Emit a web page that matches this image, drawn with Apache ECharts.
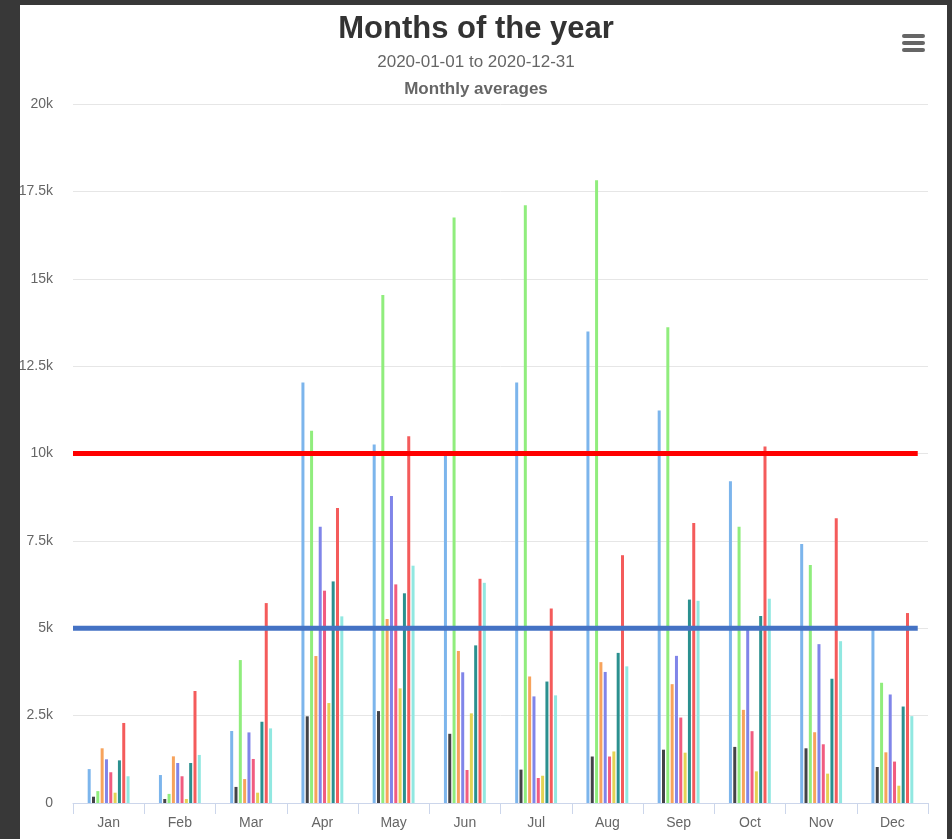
<!DOCTYPE html>
<html>
<head>
<meta charset="utf-8">
<script src="https://cdn.jsdelivr.net/npm/echarts@6/dist/echarts.min.js"></script>
<style>
html,body{margin:0;padding:0;background:#383838;}
#chart{width:952px;height:839px;}
</style>
</head>
<body>
<div id="chart"></div>
<script>
// ---- data ----
var months = ['Jan','Feb','Mar','Apr','May','Jun','Jul','Aug','Sep','Oct','Nov','Dec'];
var yTicks = [0, 2500, 5000, 7500, 10000, 12500, 15000, 17500, 20000];
var seriesNames = ['Series 1','Series 2','Series 3','Series 4','Series 5','Series 6','Series 7','Series 8','Series 9','Series 10'];
var s1  = [970, 800, 2060, 12030, 10260, 10075, 12030, 13490, 11230, 9205, 7410, 4955];
var s2  = [180, 115, 460, 2480, 2630, 1980, 955, 1330, 1525, 1605, 1565, 1030];
var s3  = [340, 260, 4090, 10650, 14535, 16755, 17100, 17820, 13610, 7905, 6810, 3440];
var s4  = [1565, 1335, 685, 4205, 5265, 4350, 3620, 4030, 3400, 2665, 2025, 1450];
var s5  = [1250, 1145, 2020, 7905, 8785, 3740, 3050, 3750, 4210, 4955, 4545, 3105];
var s6  = [880, 765, 1260, 6075, 6255, 945, 715, 1330, 2445, 2055, 1680, 1185];
var s7  = [295, 115, 295, 2860, 3280, 2565, 780, 1475, 1440, 905, 840, 495];
var s8  = [1220, 1145, 2325, 6340, 6000, 4510, 3475, 4295, 5820, 5350, 3555, 2760];
var s9  = [2290, 3205, 5720, 8440, 10490, 6415, 5565, 7090, 8010, 10200, 8145, 5435];
var s10 = [765, 1375, 2135, 5340, 6790, 6300, 3080, 3910, 5785, 5845, 4630, 2485];
var thresholdHigh = 10000;
var thresholdLow = 5000;

var allSeries = [s1, s2, s3, s4, s5, s6, s7, s8, s9, s10];
var colors = ['#7cb5ec','#434348','#90ed7d','#f7a35c','#8085e9','#f15c80','#e4d354','#2b908f','#f45b5b','#91e8e1'];
var FONT = '"Liberation Sans", Arial, sans-serif';

var series = allSeries.map(function (d, i) {
  return {
    name: seriesNames[i],
    type: 'bar',
    xAxisIndex: 0,
    data: d,
    barWidth: 3,
    barGap: '44%',
    itemStyle: { color: colors[i] },
    z: 2
  };
});
function thresholdLine(v, color) {
  return {
    type: 'line',
    xAxisIndex: 1,
    yAxisIndex: 0,
    data: [[0, v], [0.988, v]],
    symbol: 'none',
    lineStyle: { color: color, width: 5 },
    silent: true,
    z: 10
  };
}
series.push(thresholdLine(thresholdHigh, '#ff0000'));
series.push(thresholdLine(thresholdLow, '#4472c4'));

var chart = echarts.init(document.getElementById('chart'), null, { renderer: 'canvas' });
chart.setOption({
  animation: false,
  backgroundColor: '#ffffff',
  color: colors,
  title: [
    { text: 'Months of the year', left: 'center', top: 13, padding: 0,
      textStyle: { fontFamily: FONT, fontSize: 31, fontWeight: 'bold', color: '#333333', lineHeight: 32 } },
    { text: '2020-01-01 to 2020-12-31', left: 'center', top: 53, padding: 0,
      textStyle: { fontFamily: FONT, fontSize: 17, fontWeight: 'normal', color: '#666666', lineHeight: 18 } },
    { text: 'Monthly averages', left: 'center', top: 80, padding: 0,
      textStyle: { fontFamily: FONT, fontSize: 17, fontWeight: 'bold', color: '#666666', lineHeight: 18 } }
  ],
  grid: { left: 73, right: 24, top: 104, bottom: 36, containLabel: false },
  xAxis: [
    {
      type: 'category',
      data: months,
      boundaryGap: true,
      axisLine: { lineStyle: { color: '#ccd6eb', width: 1 } },
      axisTick: { show: true, alignWithLabel: false, length: 11, lineStyle: { color: '#ccd6eb' } },
      axisLabel: { color: '#666666', fontFamily: FONT, fontSize: 14, margin: 13 },
      splitLine: { show: false }
    },
    { type: 'value', min: 0, max: 1, show: false }
  ],
  yAxis: {
    type: 'value',
    min: yTicks[0],
    max: yTicks[yTicks.length - 1],
    interval: yTicks[1] - yTicks[0],
    axisLine: { show: false },
    axisTick: { show: false },
    axisLabel: {
      color: '#666666', fontFamily: FONT, fontSize: 14, margin: 20,
      formatter: function (v) { return v === 0 ? '0' : (v / 1000) + 'k'; }
    },
    splitLine: { lineStyle: { color: '#e6e6e6', width: 1 } }
  },
  series: series,
  graphic: [
    { type: 'rect', shape: { x: 902, y: 34, width: 23, height: 4, r: 2 }, style: { fill: '#666666' }, z: 100 },
    { type: 'rect', shape: { x: 902, y: 41, width: 23, height: 4, r: 2 }, style: { fill: '#666666' }, z: 100 },
    { type: 'rect', shape: { x: 902, y: 48, width: 23, height: 4, r: 2 }, style: { fill: '#666666' }, z: 100 },
    { type: 'rect', shape: { x: 0, y: 0, width: 20, height: 839 }, style: { fill: '#383838' }, z: 100 },
    { type: 'rect', shape: { x: 0, y: 0, width: 952, height: 5 }, style: { fill: '#383838' }, z: 100 },
    { type: 'rect', shape: { x: 947, y: 0, width: 5, height: 839 }, style: { fill: '#383838' }, z: 100 }
  ]
});
</script>
</body>
</html>
